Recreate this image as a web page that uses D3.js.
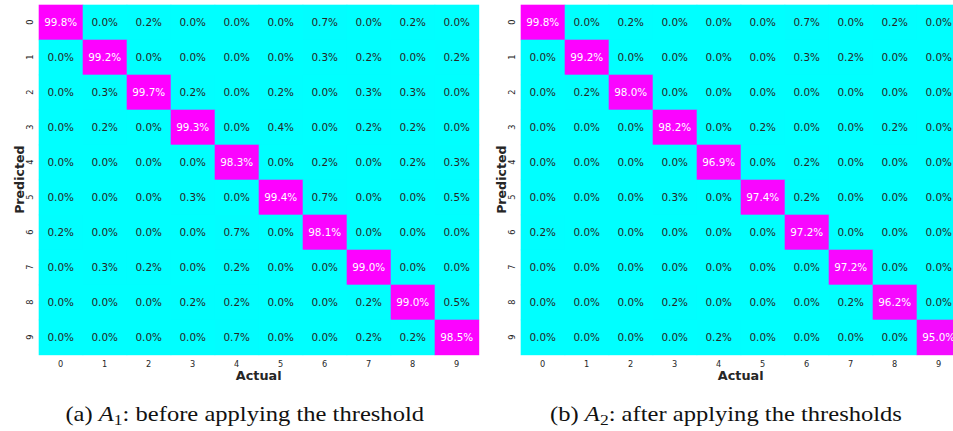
<!DOCTYPE html>
<meta charset="utf-8">
<html>
<head>
<script src="https://cdn.jsdelivr.net/npm/d3@7"></script>
<style>
  body { margin: 0; background: #fff; }
</style>
</head>
<body>
<div id="chart"></div>
<script>
// class labels 0..9
var classes = ["0","1","2","3","4","5","6","7","8","9"];

// rows = predicted, columns = actual, values in %
var matrixA1 = [
  [99.8, 0.0, 0.2, 0.0, 0.0, 0.0, 0.7, 0.0, 0.2, 0.0],
  [0.0, 99.2, 0.0, 0.0, 0.0, 0.0, 0.3, 0.2, 0.0, 0.2],
  [0.0, 0.3, 99.7, 0.2, 0.0, 0.2, 0.0, 0.3, 0.3, 0.0],
  [0.0, 0.2, 0.0, 99.3, 0.0, 0.4, 0.0, 0.2, 0.2, 0.0],
  [0.0, 0.0, 0.0, 0.0, 98.3, 0.0, 0.2, 0.0, 0.2, 0.3],
  [0.0, 0.0, 0.0, 0.3, 0.0, 99.4, 0.7, 0.0, 0.0, 0.5],
  [0.2, 0.0, 0.0, 0.0, 0.7, 0.0, 98.1, 0.0, 0.0, 0.0],
  [0.0, 0.3, 0.2, 0.0, 0.2, 0.0, 0.0, 99.0, 0.0, 0.0],
  [0.0, 0.0, 0.0, 0.2, 0.2, 0.0, 0.0, 0.2, 99.0, 0.5],
  [0.0, 0.0, 0.0, 0.0, 0.7, 0.0, 0.0, 0.2, 0.2, 98.5]
];

var matrixA2 = [
  [99.8, 0.0, 0.2, 0.0, 0.0, 0.0, 0.7, 0.0, 0.2, 0.0],
  [0.0, 99.2, 0.0, 0.0, 0.0, 0.0, 0.3, 0.2, 0.0, 0.0],
  [0.0, 0.2, 98.0, 0.0, 0.0, 0.0, 0.0, 0.0, 0.0, 0.0],
  [0.0, 0.0, 0.0, 98.2, 0.0, 0.2, 0.0, 0.0, 0.2, 0.0],
  [0.0, 0.0, 0.0, 0.0, 96.9, 0.0, 0.2, 0.0, 0.0, 0.0],
  [0.0, 0.0, 0.0, 0.3, 0.0, 97.4, 0.2, 0.0, 0.0, 0.0],
  [0.2, 0.0, 0.0, 0.0, 0.0, 0.0, 97.2, 0.0, 0.0, 0.0],
  [0.0, 0.0, 0.0, 0.0, 0.0, 0.0, 0.0, 97.2, 0.0, 0.0],
  [0.0, 0.0, 0.0, 0.2, 0.0, 0.0, 0.0, 0.2, 96.2, 0.0],
  [0.0, 0.0, 0.0, 0.0, 0.2, 0.0, 0.0, 0.0, 0.0, 95.0]
];

var captionA = { tag: "(a) ", sub: "1", rest: ": before applying the threshold" };
var captionB = { tag: "(b) ", sub: "2", rest: ": after applying the thresholds" };

var width = 953, height = 431;
var font = "DejaVu Sans, sans-serif";

var svg = d3.select("#chart").append("svg")
  .attr("width", width)
  .attr("height", height)
  .style("display", "block");

function drawPanel(matrix, left, captionX, caption) {
  var top = 4.7, w = 440, h = 350;

  var x = d3.scaleBand().domain(classes).range([0, w]);
  var y = d3.scaleBand().domain(classes).range([0, h]);
  var maxV = d3.max(matrix, function(r) { return d3.max(r); });
  var color = d3.scaleLinear().domain([0, maxV]).range(["#00ffff", "#ff00ff"]);

  var g = svg.append("g").attr("transform", "translate(" + left + "," + top + ")");

  var cells = [];
  matrix.forEach(function(row, i) {
    row.forEach(function(v, j) { cells.push({ r: classes[i], c: classes[j], v: v }); });
  });

  g.selectAll("rect").data(cells).enter().append("rect")
    .attr("x", function(d) { return x(d.c); })
    .attr("y", function(d) { return y(d.r); })
    .attr("width", x.bandwidth() + 0.5)
    .attr("height", y.bandwidth() + 0.5)
    .attr("fill", function(d) { return color(d.v); });

  g.selectAll("text.val").data(cells).enter().append("text")
    .attr("class", "val")
    .attr("x", function(d) { return x(d.c) + x.bandwidth() / 2; })
    .attr("y", function(d) { return y(d.r) + y.bandwidth() / 2; })
    .attr("text-anchor", "middle")
    .attr("dy", "0.36em")
    .style("font-family", font)
    .style("font-size", "10.4px")
    .attr("fill", function(d) { return d.v > maxV / 2 ? "#ffffff" : "#262626"; })
    .text(function(d) { return d.v.toFixed(1) + "%"; });

  // x ticks
  g.selectAll("text.xt").data(classes).enter().append("text")
    .attr("class", "xt")
    .attr("x", function(d) { return x(d) + x.bandwidth() / 2; })
    .attr("y", h + 12)
    .attr("text-anchor", "middle")
    .style("font-family", font)
    .style("font-size", "8.2px")
    .attr("fill", "#262626")
    .text(function(d) { return d; });

  // y ticks, rotated
  g.selectAll("text.yt").data(classes).enter().append("text")
    .attr("class", "yt")
    .attr("transform", function(d) {
      return "translate(-5.6," + (y(d) + y.bandwidth() / 2) + ") rotate(-90)";
    })
    .attr("text-anchor", "middle")
    .style("font-family", font)
    .style("font-size", "8.2px")
    .attr("fill", "#262626")
    .text(function(d) { return d; });

  g.append("text")
    .attr("x", w / 2)
    .attr("y", h + 25.8)
    .attr("text-anchor", "middle")
    .style("font-family", font)
    .style("font-size", "12.8px")
    .style("font-weight", "bold")
    .attr("fill", "#262626")
    .text("Actual");

  g.append("text")
    .attr("transform", "translate(-15," + (h / 2) + ") rotate(-90)")
    .attr("text-anchor", "middle")
    .style("font-family", font)
    .style("font-size", "12.6px")
    .style("font-weight", "bold")
    .attr("fill", "#262626")
    .text("Predicted");

  // caption, stretched a little to match the reference width
  var cap = svg.append("text")
    .attr("transform", "translate(" + captionX + ",421) scale(1.17,1)")
    .attr("text-anchor", "middle")
    .style("font-family", "Liberation Serif, Times New Roman, serif")
    .style("font-size", "21px")
    .attr("fill", "#111");
  cap.append("tspan").text(caption.tag);
  cap.append("tspan").style("font-style", "italic").text("A");
  cap.append("tspan").attr("dy", 4).style("font-size", "15px").text(caption.sub);
  cap.append("tspan").attr("dy", -4).text(caption.rest);
}

drawPanel(matrixA1, 38.7, 244.7, captionA);
drawPanel(matrixA2, 520.7, 726, captionB);
</script>
</body>
</html>
